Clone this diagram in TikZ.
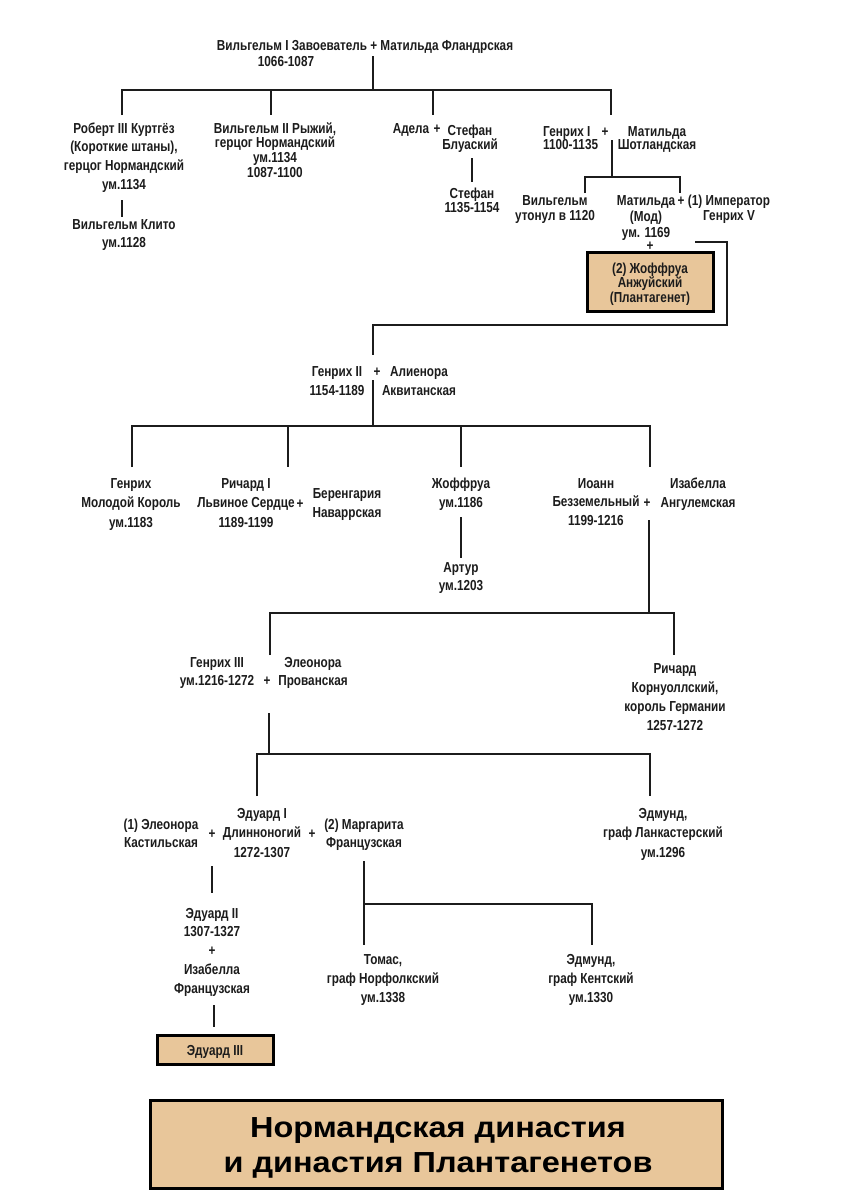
\documentclass[tikz,border=0pt]{standalone}
\usepackage{fontspec}
\newfontfamily\cond[FakeStretch=0.81]{Liberation Sans}
\newfontfamily\titlef[FakeStretch=1.12]{Liberation Sans}
\definecolor{ink}{RGB}{28,28,28}
\definecolor{tan}{RGB}{232,198,154}
\begin{document}
\begin{tikzpicture}[x=1pt,y=-1pt,
  p/.style={font={\cond\bfseries\fontsize{14.5}{#1}\selectfont}, text=ink, align=center, inner sep=0pt, anchor=base},
  p/.default=18.5,
  pl/.style={font={\cond\bfseries\fontsize{14.5}{14}\selectfont}, text=ink, inner sep=0pt, anchor=base},
  ln/.style={line width=2pt, draw=ink},
  hbox/.style={draw=black, line width=3pt, fill=tan}]
\useasboundingbox (0,0) rectangle (849,1200);
\fill[white] (0,0) rectangle (849,1200);

% (multi-line nodes are placed by the baseline of their last line)
% ---------- generation 1
\node[pl] (wm1) at (365,50) {Вильгельм I Завоеватель + Матильда Фландрская};
\node[pl] (wm1d) at (286,66) {1066-1087};

% ---------- generation 2
\node[p=18.7] (rob) at (124,189.1) {Роберт III Куртгёз\\(Короткие штаны),\\герцог Нормандский\\ум.1134};
\node[p=18] (klito) at (124,247) {Вильгельм Клито\\ум.1128};
\node[p=14.7] (wm2) at (275,177.1) {Вильгельм II Рыжий,\\герцог Нормандский\\ум.1134\\1087-1100};
\node[pl] (adela) at (411,133) {Адела};
\node[pl] (pA) at (437,133) {+};
\node[p=14] (stb) at (470,149) {Стефан\\Блуаский};
\node[p=14] (stef) at (472,212) {Стефан\\1135-1154};
\node[p=13.5, align=left, anchor=base west] (hen1) at (543,149.5) {Генрих I\\1100-1135};
\node[pl] (pH1) at (605,136) {+};
\node[p=13.5] (mats) at (657,149.5) {Матильда\\Шотландская};

% ---------- generation 3 (Henry I)
\node[p=15] (wmd) at (555,220) {Вильгельм\\утонул в 1120};
\node[p=16] (maud) at (646,237) {Матильда\\(Мод)\\ум. 1169};
\node[pl] (pM1) at (681,205) {+};
\node[p=15] (hen5) at (729,220) {(1) Император\\Генрих V};
\node[pl] (pM2) at (650,250) {+};
\node[hbox, minimum width=126pt, minimum height=59pt, inner sep=0pt] (geof) at (650,281.5) {};
\node[p=14.5] (geoft) at (650,302) {(2) Жоффруа\\Анжуйский\\(Плантагенет)};

% ---------- Henry II
\node[p=19] (hen2) at (337,395) {Генрих II\\1154-1189};
\node[pl] (pH2) at (377,376) {+};
\node[p=19] (alie) at (419,395) {Алиенора\\Аквитанская};

% ---------- children of Henry II
\node[p=19.5] (hym) at (131,527) {Генрих\\Молодой Король\\ум.1183};
\node[p=19.5] (ric1) at (246,527) {Ричард I\\Львиное Сердце\\1189-1199};
\node[pl] (pR) at (300,508) {+};
\node[p=19] (bere) at (347,517) {Беренгария\\Наваррская};
\node[p=19] (geo2) at (461,507) {Жоффруа\\ум.1186};
\node[p=18] (art) at (461,590) {Артур\\ум.1203};
\node[p=18.5] (ioan) at (596,525) {Иоанн\\Безземельный\\1199-1216};
\node[pl] (pI) at (647,507) {+};
\node[p=19] (isab) at (698,507) {Изабелла\\Ангулемская};

% ---------- children of John
\node[p=18] (hen3) at (217,685) {Генрих III\\ум.1216-1272};
\node[pl] (pH3) at (267,685) {+};
\node[p=18] (eleo) at (313,685) {Элеонора\\Прованская};
\node[p=19] (ricc) at (675,730) {Ричард\\Корнуоллский,\\король Германии\\1257-1272};

% ---------- children of Henry III
\node[p=18] (eleok) at (161,847) {(1) Элеонора\\Кастильская};
\node[pl] (pE1) at (212,838) {+};
\node[p=19.5] (edw1) at (262,857) {Эдуард I\\Длинноногий\\1272-1307};
\node[pl] (pE2) at (312,838) {+};
\node[p=18] (marg) at (364,847) {(2) Маргарита\\Французская};
\node[p=19.5] (edml) at (663,857) {Эдмунд,\\граф Ланкастерский\\ум.1296};

% ---------- children of Edward I
\node[p=18.75] (edw2) at (212,993) {Эдуард II\\1307-1327\\+\\Изабелла\\Французская};
\node[hbox, minimum width=116pt, minimum height=29pt, inner sep=0pt] (edw3) at (215,1049.5) {};
\node[pl] (edw3t) at (215,1055) {Эдуард III};
\node[p=19] (thom) at (383,1002) {Томас,\\граф Норфолкский\\ум.1338};
\node[p=19] (edmk) at (591,1002) {Эдмунд,\\граф Кентский\\ум.1330};

% ---------- title
\node[draw=black, line width=3pt, fill=tan, minimum width=572pt, minimum height=88pt, inner sep=0pt] (title) at (436,1144) {};
\node[font={\titlef\bfseries\fontsize{29}{35}\selectfont}, text=black, align=center, inner sep=0pt, anchor=base] (titlet) at (438,1172) {Нормандская династия\\и династия Плантагенетов};

% ---------- connector coordinates
\coordinate (a0) at (373,56);
\coordinate (a1) at (373,90);
\coordinate (aL) at (122,90);
\coordinate (aR) at (611,90);
\coordinate (a2) at (271,90);
\coordinate (a3) at (433,90);
\coordinate (rT) at (122,115);
\coordinate (w2T) at (271,115);
\coordinate (adT) at (433,115);
\coordinate (h1T) at (611,115);
\coordinate (rB) at (122,200);
\coordinate (kT) at (122,217);
\coordinate (sB) at (472,158);
\coordinate (sT) at (472,182);
\coordinate (h1B) at (612,140);
\coordinate (h1J) at (612,177);
\coordinate (cL) at (585,177);
\coordinate (cR) at (680,177);
\coordinate (wdT) at (585,193);
\coordinate (mdT) at (680,193);
\coordinate (gA) at (695,242);
\coordinate (gB) at (727,242);
\coordinate (gC) at (727,325);
\coordinate (gD) at (373,325);
\coordinate (h2T) at (373,355);
\coordinate (h2B) at (373,380);
\coordinate (h2J) at (373,426);
\coordinate (bL) at (132,426);
\coordinate (bR) at (650,426);
\coordinate (b2) at (288,426);
\coordinate (b3) at (461,426);
\coordinate (hyT) at (132,467);
\coordinate (r1T) at (288,467);
\coordinate (g2T) at (461,467);
\coordinate (ioT) at (650,467);
\coordinate (g2B) at (461,517);
\coordinate (arT) at (461,558);
\coordinate (ioB) at (649,520);
\coordinate (ioJ) at (649,613);
\coordinate (dL) at (270,613);
\coordinate (dR) at (674,613);
\coordinate (h3T) at (270,655);
\coordinate (rcT) at (674,655);
\coordinate (h3B) at (269,713);
\coordinate (h3J) at (269,754);
\coordinate (eL) at (257,754);
\coordinate (eR) at (650,754);
\coordinate (e1T) at (257,796);
\coordinate (elT) at (650,796);
\coordinate (e1B) at (212,866);
\coordinate (e2T) at (212,893);
\coordinate (e2B) at (214,1005);
\coordinate (e3T) at (214,1027);
\coordinate (mB) at (364,861);
\coordinate (mJ) at (364,904);
\coordinate (mR) at (592,904);
\coordinate (thT) at (364,945);
\coordinate (ekT) at (592,945);

% ---------- connectors
\draw[ln] (a0) -- (a1);
\draw[ln] (rT) -- (aL) -- (aR) -- (h1T);
\draw[ln] (a2) -- (w2T);
\draw[ln] (a3) -- (adT);
\draw[ln] (rB) -- (kT);
\draw[ln] (sB) -- (sT);
\draw[ln] (h1B) -- (h1J);
\draw[ln] (wdT) -- (cL) -- (cR) -- (mdT);
\draw[ln] (gA) -- (gB) -- (gC) -- (gD) -- (h2T);
\draw[ln] (h2B) -- (h2J);
\draw[ln] (hyT) -- (bL) -- (bR) -- (ioT);
\draw[ln] (b2) -- (r1T);
\draw[ln] (b3) -- (g2T);
\draw[ln] (g2B) -- (arT);
\draw[ln] (ioB) -- (ioJ);
\draw[ln] (h3T) -- (dL) -- (dR) -- (rcT);
\draw[ln] (h3B) -- (h3J);
\draw[ln] (e1T) -- (eL) -- (eR) -- (elT);
\draw[ln] (e1B) -- (e2T);
\draw[ln] (e2B) -- (e3T);
\draw[ln] (mB) -- (thT);
\draw[ln] (mJ) -- (mR) -- (ekT);
\end{tikzpicture}
\end{document}
